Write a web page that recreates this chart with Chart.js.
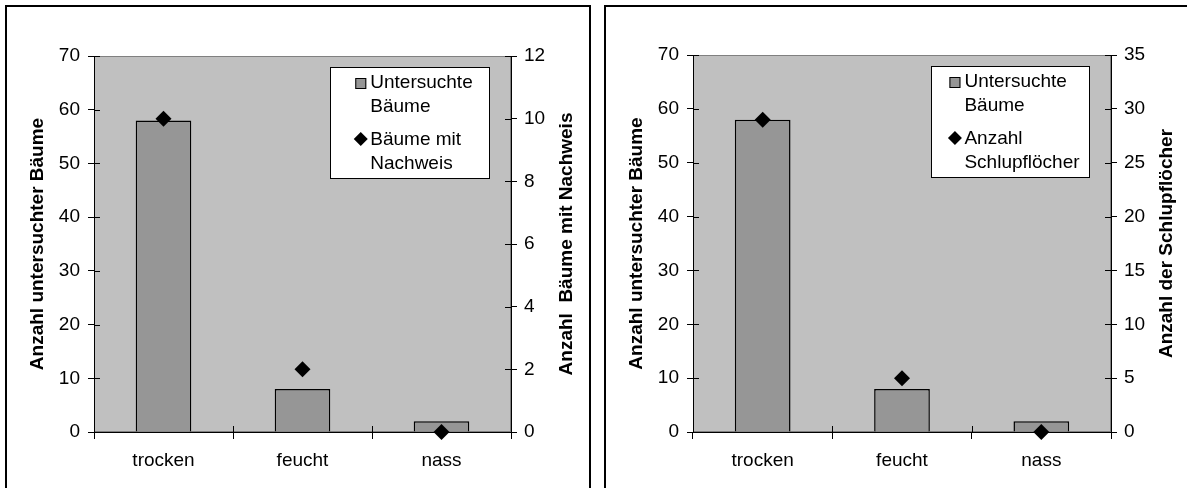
<!DOCTYPE html>
<html>
<head>
<meta charset="utf-8">
<script src="https://cdn.jsdelivr.net/npm/chart.js@4"></script>
<style>
html,body{margin:0;padding:0;background:#fff;overflow:hidden;width:1187px;height:488px;}
.panel{position:absolute;border:2px solid #000;background:#fff;}
#p1{left:5px;top:5px;width:582px;height:500px;}
#p2{left:604px;top:5px;width:600px;height:500px;}
canvas{position:absolute;left:0;top:0;}
</style>
</head>
<body>
<div class="panel" id="p1"><canvas id="c1" width="582" height="481"></canvas></div>
<div class="panel" id="p2"><canvas id="c2" width="581" height="481"></canvas></div>
<script>
// data
const categories=["trocken","feucht","nass"];
const untersuchteBaeume=[58,8,2];
const baeumeMitNachweis=[10,2,0];
const schlupfloecher=[29,5,0];

const leftAxisTitle="Anzahl untersuchter Bäume";
const legendBars=["Untersuchte","Bäume"];
const legendNachweis=["Bäume mit","Nachweis"];
const legendSchlupf=["Anzahl","Schlupflöcher"];

const FONT="'Liberation Sans', Arial, sans-serif";

// grey plot area
const plotBg={
id:"plotBg",
beforeDraw(chart){
const a=chart.chartArea,ctx=chart.ctx;
ctx.save();
ctx.fillStyle="#c0c0c0";
ctx.fillRect(a.left,a.top,a.right-a.left,a.bottom-a.top);
ctx.strokeStyle="#808080";
ctx.lineWidth=1;
ctx.strokeRect(a.left+0.5,a.top+0.5,a.right-a.left-1,a.bottom-a.top-1);
ctx.restore();
}
};

// tick marks crossing into the plot area
const innerTicks={
id:"innerTicks",
beforeDatasetsDraw(chart){
const ctx=chart.ctx,a=chart.chartArea;
ctx.save();
ctx.strokeStyle="#000";
ctx.lineWidth=1;
ctx.beginPath();
["y","y1"].forEach(id=>{
const s=chart.scales[id];
s.ticks.forEach(t=>{
const py=Math.round(s.getPixelForValue(t.value))+0.5;
if(id==="y"){ctx.moveTo(a.left,py);ctx.lineTo(a.left+6,py);}
else{ctx.moveTo(a.right,py);ctx.lineTo(a.right-6,py);}
});
});
const x=chart.scales.x;
for(let i=0;i<=categories.length;i++){
const px=Math.round(x.getPixelForValue(i-0.5))+0.5;
ctx.moveTo(px,a.bottom);ctx.lineTo(px,a.bottom-6);
}
ctx.stroke();
ctx.restore();
}
};

// right axis title, reading bottom to top like the left one
const sideTitle={
id:"sideTitle",
afterDraw(chart,args,o){
const s=chart.scales.y1,ctx=chart.ctx;
ctx.save();
ctx.translate(chart.chartArea.right+o.offset,(s.top+s.bottom)/2);
ctx.rotate(-Math.PI/2);
ctx.font="bold 19px "+FONT;
ctx.fillStyle="#000";
ctx.textAlign="center";
ctx.textBaseline="middle";
ctx.fillText(o.text,0,0);
ctx.restore();
}
};

// boxed legend inside the plot
const boxLegend={
id:"boxLegend",
afterDraw(chart,args,o){
const ctx=chart.ctx,a=chart.chartArea;
const x=a.right-o.fromRight,y=a.top+o.fromTop;
ctx.save();
ctx.fillStyle="#fff";
ctx.fillRect(x,y,o.w,o.h);
ctx.strokeStyle="#000";
ctx.lineWidth=1;
ctx.strokeRect(x+0.5,y+0.5,o.w-1,o.h-1);
ctx.font="19px "+FONT;
const all=o.items.flatMap(it=>it.lines);
const maxW=Math.max(...all.map(l=>ctx.measureText(l).width));
const mx=x+(o.w-(11+4+maxW))/2+4;
const tx=mx+15;
ctx.fillStyle="#000";
ctx.textBaseline="alphabetic";
o.items.forEach((it,i)=>{
const base=y+21+i*57;
if(it.type==="box"){
ctx.fillStyle="#969696";
ctx.fillRect(mx,base-10,11,11);
ctx.strokeStyle="#000";
ctx.strokeRect(mx+0.5,base-9.5,10,10);
}else{
const cx=mx+5.5,cy=base-6;
ctx.fillStyle="#000";
ctx.beginPath();
ctx.moveTo(cx,cy-7);ctx.lineTo(cx+7,cy);ctx.lineTo(cx,cy+7);ctx.lineTo(cx-7,cy);
ctx.closePath();ctx.fill();
}
ctx.fillStyle="#000";
it.lines.forEach((l,j)=>ctx.fillText(l,tx,base+j*24));
});
ctx.restore();
}
};

function makeChart(id,cfg){
const canvas=document.getElementById(id);
const W=canvas.width,H=canvas.height;
const tickFont={family:FONT,size:19};
return new Chart(canvas,{
data:{
labels:categories,
datasets:[
{
type:"line",
label:cfg.pointLines.join(" "),
data:cfg.pointData,
yAxisID:"y1",
showLine:false,
pointStyle:"rectRot",
pointRadius:8,
pointBackgroundColor:"#000",
pointBorderColor:"#000",
pointBorderWidth:0,
clip:false,
order:0
},
{
type:"bar",
label:legendBars.join(" "),
data:untersuchteBaeume,
yAxisID:"y",
backgroundColor:"#969696",
borderColor:"#000",
borderWidth:1.5,
barPercentage:0.4,
categoryPercentage:1,
order:1
}
]
},
options:{
responsive:false,
animation:false,
devicePixelRatio:1,
layout:{padding:{top:cfg.top,left:0,right:0,bottom:0}},
plugins:{
legend:{display:false},
tooltip:{enabled:false},
sideTitle:{text:cfg.rightTitle,offset:56},
boxLegend:{
fromRight:cfg.legRight,fromTop:11,w:cfg.legW,h:112,
items:[{type:"box",lines:legendBars},{type:"diamond",lines:cfg.pointLines}]
}
},
scales:{
x:{
grid:{display:true,drawOnChartArea:false,drawTicks:true,tickLength:7,color:"#000",offset:true},
border:{display:true,color:"#000",width:1},
ticks:{color:"#000",font:tickFont,padding:10,maxRotation:0},
afterFit:s=>{s.height=H-425;}
},
y:{
position:"left",
min:0,max:70,
ticks:{stepSize:10,color:"#000",font:tickFont,padding:8},
grid:{drawOnChartArea:false,tickLength:6,color:"#000"},
border:{display:true,color:"#000",width:1},
title:{display:true,text:leftAxisTitle,color:"#000",font:{family:FONT,size:19,weight:"bold"},padding:{top:19,bottom:0}},
afterFit:s=>{s.width=87;}
},
y1:{
position:"right",
min:0,max:cfg.rightMax,
ticks:{stepSize:cfg.rightStep,color:"#000",font:tickFont,padding:7},
grid:{drawOnChartArea:false,tickLength:6,color:"#000"},
border:{display:true,color:"#000",width:1},
afterFit:s=>{s.width=W-cfg.right;}
}
}
},
plugins:[plotBg,innerTicks,sideTitle,boxLegend]
});
}

makeChart("c1",{
pointData:baeumeMitNachweis,
pointLines:legendNachweis,
rightTitle:"Anzahl  Bäume mit Nachweis",
rightMax:12,rightStep:2,
top:49,right:504,legRight:181,legW:160
});

makeChart("c2",{
pointData:schlupfloecher,
pointLines:legendSchlupf,
rightTitle:"Anzahl der Schlupflöcher",
rightMax:35,rightStep:5,
top:48,right:505,legRight:180,legW:159
});
</script>
</body>
</html>
